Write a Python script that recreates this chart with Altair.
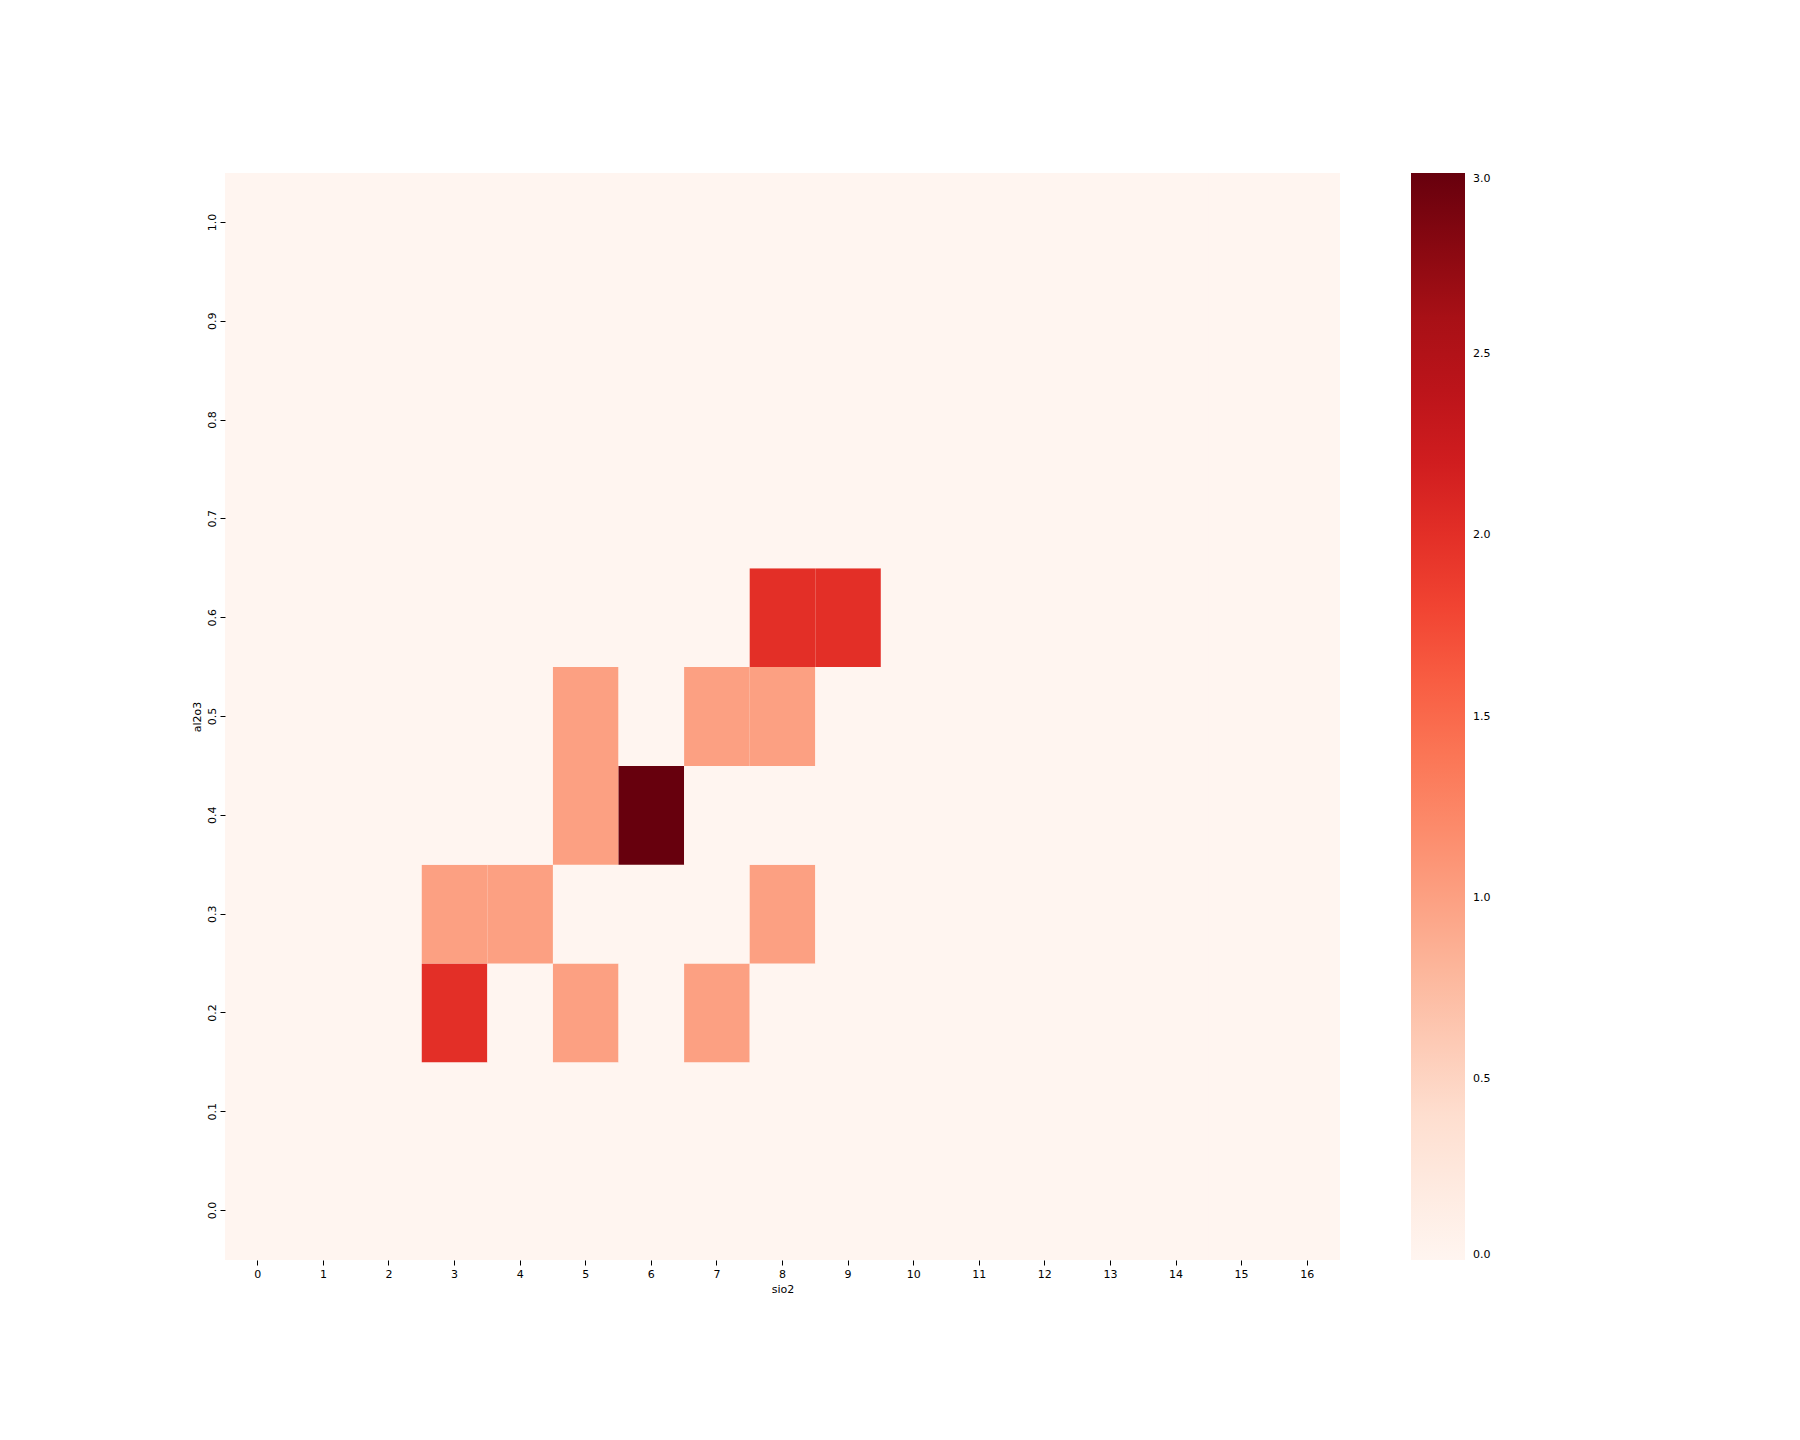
import altair as alt
import pandas as pd

sio2 = list(range(17))
al2o3 = ["0.0", "0.1", "0.2", "0.3", "0.4", "0.5", "0.6", "0.7", "0.8", "0.9", "1.0"]

# counts[row for al2o3][col for sio2]
counts = [
    [0, 0, 0, 0, 0, 0, 0, 0, 0, 0, 0, 0, 0, 0, 0, 0, 0],  # 0.0
    [0, 0, 0, 0, 0, 0, 0, 0, 0, 0, 0, 0, 0, 0, 0, 0, 0],  # 0.1
    [0, 0, 0, 2, 0, 1, 0, 1, 0, 0, 0, 0, 0, 0, 0, 0, 0],  # 0.2
    [0, 0, 0, 1, 1, 0, 0, 0, 1, 0, 0, 0, 0, 0, 0, 0, 0],  # 0.3
    [0, 0, 0, 0, 0, 1, 3, 0, 0, 0, 0, 0, 0, 0, 0, 0, 0],  # 0.4
    [0, 0, 0, 0, 0, 1, 0, 1, 1, 0, 0, 0, 0, 0, 0, 0, 0],  # 0.5
    [0, 0, 0, 0, 0, 0, 0, 0, 2, 2, 0, 0, 0, 0, 0, 0, 0],  # 0.6
    [0, 0, 0, 0, 0, 0, 0, 0, 0, 0, 0, 0, 0, 0, 0, 0, 0],  # 0.7
    [0, 0, 0, 0, 0, 0, 0, 0, 0, 0, 0, 0, 0, 0, 0, 0, 0],  # 0.8
    [0, 0, 0, 0, 0, 0, 0, 0, 0, 0, 0, 0, 0, 0, 0, 0, 0],  # 0.9
    [0, 0, 0, 0, 0, 0, 0, 0, 0, 0, 0, 0, 0, 0, 0, 0, 0],  # 1.0
]

# matplotlib "Reds" colormap stops
reds_colors = ["#fff5f0", "#fee0d2", "#fcbba1", "#fc9272", "#fb6a4a",
               "#ef3b2c", "#cb181d", "#a50f15", "#67000d"]
vmin, vmax = 0, 3
reds_domain = [vmin + (vmax - vmin) * k / 8 for k in range(9)]
legend_values = [0, 0.5, 1, 1.5, 2, 2.5, 3]

rows = []
for i, a in enumerate(al2o3):
    for j, s in enumerate(sio2):
        rows.append({"sio2": str(s), "al2o3": a, "count": counts[i][j]})
df = pd.DataFrame(rows)

FONT = "DejaVu Sans"
cscale = alt.Scale(domain=reds_domain, range=reds_colors, interpolate="rgb")

chart = alt.Chart(df).mark_rect().encode(
    x=alt.X("sio2:O", sort=[str(s) for s in sio2],
            scale=alt.Scale(paddingInner=0, paddingOuter=0),
            axis=alt.Axis(title="sio2", labelAngle=0, domain=False, tickSize=5,
                          tickColor="black", labelColor="black", labelFontSize=11,
                          labelPadding=3, titleFontSize=11, titleFontWeight="normal",
                          titleColor="black", titlePadding=4, labelFont=FONT, titleFont=FONT)),
    y=alt.Y("al2o3:O", sort=list(reversed(al2o3)),
            scale=alt.Scale(paddingInner=0, paddingOuter=0),
            axis=alt.Axis(title="al2o3", labelAngle=270, labelAlign="center",
                          labelBaseline="bottom", domain=False, tickSize=5,
                          tickColor="black", labelColor="black", labelFontSize=11,
                          labelPadding=3, titleFontSize=11, titleFontWeight="normal",
                          titleColor="black", titlePadding=4, labelFont=FONT, titleFont=FONT)),
    color=alt.Color("count:Q", scale=cscale,
                    legend=alt.Legend(type="gradient", title=None, orient="none",
                                      legendX=1186, legendY=0,
                                      direction="vertical", gradientLength=1087,
                                      gradientThickness=54, values=legend_values,
                                      format=".1f", labelFontSize=11, labelColor="black",
                                      labelFont=FONT, labelOffset=8, labelBaseline="middle",
                                      gradientStrokeWidth=0)),
).properties(
    width=1115, height=1087,
    autosize=alt.AutoSizeParams(type="none"),
    padding={"left": 225, "top": 173, "right": 260, "bottom": 180},
).configure_view(stroke=None, fill=reds_colors[0])

chart.save("out.html", embed_options={"renderer": "svg", "actions": False})
